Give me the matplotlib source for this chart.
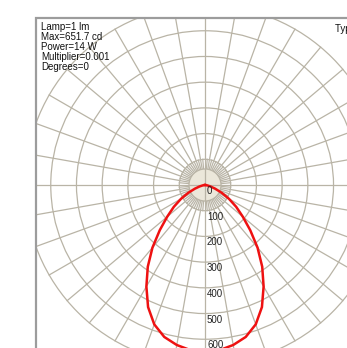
import numpy as np
import matplotlib.pyplot as plt
from matplotlib.patches import Rectangle, Circle

# C0-C180 plane: gamma angle from nadir (deg) and luminous intensity (cd)
gamma = [0, 5, 10, 15, 20, 25, 30, 35, 40, 45, 50, 55, 60, 65, 70, 75, 80, 85, 90]
intensity = [651.7, 645, 632, 612, 577, 524, 456, 388, 318, 249, 192, 148, 108, 72, 42, 22, 9, 3, 0]

rings = [100, 200, 300, 400, 500, 600, 700]
ring_labels = [0, 100, 200, 300, 400, 500, 600]
info = ["Lamp=1 lm", "Max=651.7 cd", "Power=14 W", "Multiplier=0.001", "Degrees=0"]

W, H = 347, 348
k = 3.89            # cd per pixel
cx, cy = 205, 185   # pole position in pixels
grid_c = '#b9b4a6'

plt.rcParams['font.family'] = ['Liberation Sans', 'DejaVu Sans']

fig = plt.figure(figsize=(W / 100, H / 100), dpi=100)
ax = fig.add_axes([0, 0, 1, 1])
ax.set_xlim(-cx * k, (W - cx) * k)
ax.set_ylim(-(H - cy) * k, cy * k)
ax.set_aspect('equal')
ax.axis('off')

# outer frame, also used to clip the grid
left, top = (36 - cx) * k, (cy - 18) * k
frame = Rectangle((left, -5000), 10000, top + 5000, fill=False,
                  edgecolor='#9c9c9c', lw=1.6, zorder=5)
ax.add_patch(frame)

r0 = 16 * k
rmax = rings[-1]
for r in rings:
    c = Circle((0, 0), r, fill=False, edgecolor=grid_c, lw=0.9, zorder=1)
    ax.add_patch(c)
    c.set_clip_path(frame)

# 10 deg spokes run out to the last ring, 5 deg ones stay near the pole
for a in range(0, 360, 5):
    t = np.radians(a)
    start = 0 if a % 90 == 0 else r0
    end = rmax if a % 10 == 0 else rings[0]
    ln, = ax.plot([start * np.sin(t), end * np.sin(t)],
                  [start * np.cos(t), end * np.cos(t)],
                  color=grid_c, lw=0.9, zorder=1)
    ln.set_clip_path(frame)

disc = Circle((0, 0), r0, facecolor='#ebe7da', edgecolor=grid_c, lw=0.9, zorder=2)
ax.add_patch(disc)
ax.plot([-r0, r0], [0, 0], color=grid_c, lw=0.9, zorder=2)
ax.plot([0, 0], [-r0, r0], color=grid_c, lw=0.9, zorder=2)

for v in ring_labels:
    ax.text(2 * k, -v - 6 * k, str(v), fontsize=7, ha='left', va='center',
            color='#222222', zorder=4)

# intensity curve, mirrored for the C180 half
g = np.radians(np.array(gamma))
I = np.array(intensity)
gg = np.concatenate([-g[::-1], g[1:]])
II = np.concatenate([I[::-1], I[1:]])
ax.plot(II * np.sin(gg), -II * np.cos(gg), color='#ee1111', lw=1.8, zorder=3)

for i, s in enumerate(info):
    fig.text(41 / W, 1 - (27 + 10 * i) / H, s, fontsize=7, va='center', ha='left',
             color='#111111')
fig.text(335 / W, 1 - 29 / H, 'Type C', fontsize=7, va='center', ha='left',
         color='#111111')

fig.savefig('out.png', dpi=100, facecolor='white')
